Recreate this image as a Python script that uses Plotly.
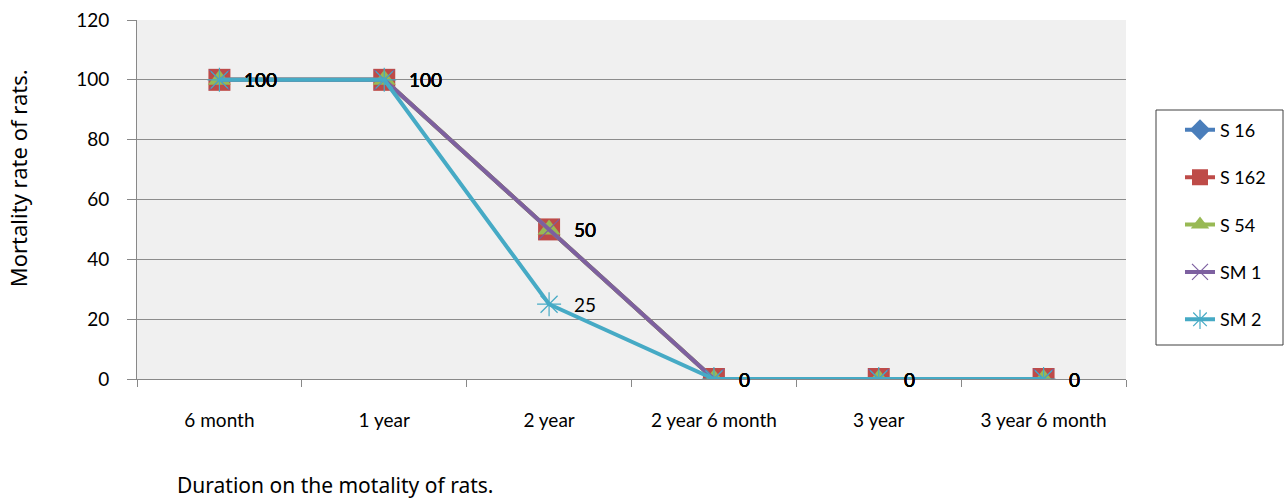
import plotly.graph_objects as go

categories = ["6 month", "1 year", "2 year", "2 year 6 month", "3 year", "3 year 6 month"]
series_names = ["S 16", "S 162", "S 54", "SM 1", "SM 2"]
s16 = [100, 100, 50, 0, 0, 0]
s162 = [100, 100, 50, 0, 0, 0]
s54 = [100, 100, 50, 0, 0, 0]
sm1 = [100, 100, 50, 0, 0, 0]
sm2 = [100, 100, 25, 0, 0, 0]
y_ticks = [0, 20, 40, 60, 80, 100, 120]

colors = ["#4A7EBB", "#BE4B48", "#98B954", "#7D60A0", "#46AAC5"]
symbols = ["diamond", "square", "triangle-up", "x-thin-open", "asterisk-open"]
sizes = [16, 22, 20, 20, 20]
values = [s16, s162, s54, sm1, sm2]

fig = go.Figure()
for i, (name, vals) in enumerate(zip(series_names, values)):
    fig.add_trace(go.Scatter(
        x=categories, y=vals, name=name, mode="lines+markers",
        line=dict(color=colors[i], width=4),
        marker=dict(symbol=symbols[i], size=sizes[i], color=colors[i],
                    line=dict(color=colors[i], width=1.2 if i >= 3 else 0)),
        legendgroup=name,
    ))

# data labels
for i, vals in enumerate(values):
    for c, v in zip(categories, vals):
        fig.add_annotation(x=c, y=v, text=str(v), showarrow=False,
                           xanchor="left", yanchor="middle", xshift=23,
                           font=dict(family="Lato, sans-serif", size=19, color="#000000"))

fig.update_layout(
    width=1284, height=502,
    margin=dict(l=137, r=158, t=20, b=123, autoexpand=False),
    paper_bgcolor="white", plot_bgcolor="#F0F0F0",
    showlegend=True,
    legend=dict(x=1.0546, y=0.745, xanchor="left", yanchor="top",
                borderwidth=0, bgcolor="rgba(0,0,0,0)",
                traceorder="grouped", tracegroupgap=21,
                font=dict(family="Lato, sans-serif", size=18, color="#000000")),
    xaxis=dict(type="category", range=[-0.5, 5.5], showgrid=False, showline=True,
               linecolor="#888888", ticks="outside", tickson="boundaries", ticklen=7,
               tickcolor="#888888", ticklabelstandoff=24,
               tickfont=dict(family="Lato, sans-serif", size=19, color="#000000")),
    yaxis=dict(range=[0, 120], tickvals=y_ticks, showgrid=True, gridcolor="#8C8C8C",
               showline=True, linecolor="#888888", ticks="outside", ticklen=9,
               tickcolor="#888888", zeroline=False, ticklabelstandoff=14,
               tickfont=dict(family="Lato, sans-serif", size=19, color="#000000")),
)

# legend frame
fig.add_shape(type="rect", xref="paper", yref="paper",
              x0=(1156 - 137) / 989, x1=(1283 - 137) / 989,
              y0=(379 - 345) / 359, y1=(379 - 110) / 359,
              line=dict(color="#404040", width=1), fillcolor="white", layer="below")

fig.add_annotation(xref="paper", yref="paper", x=-0.12, y=0.56, text="Mortality rate of rats.",
                   showarrow=False, textangle=-90, xanchor="center", yanchor="middle",
                   font=dict(family="Noto Sans, sans-serif", size=22, color="#000000"))
fig.add_annotation(xref="paper", yref="paper", x=0.0385, y=-0.295, text="Duration on the motality of rats.",
                   showarrow=False, xanchor="left", yanchor="middle",
                   font=dict(family="Noto Sans, sans-serif", size=21, color="#000000"))

fig.write_html("out.html", config={"displayModeBar": False},
               post_script="document.body.style.margin='0';document.body.style.overflow='hidden';")
